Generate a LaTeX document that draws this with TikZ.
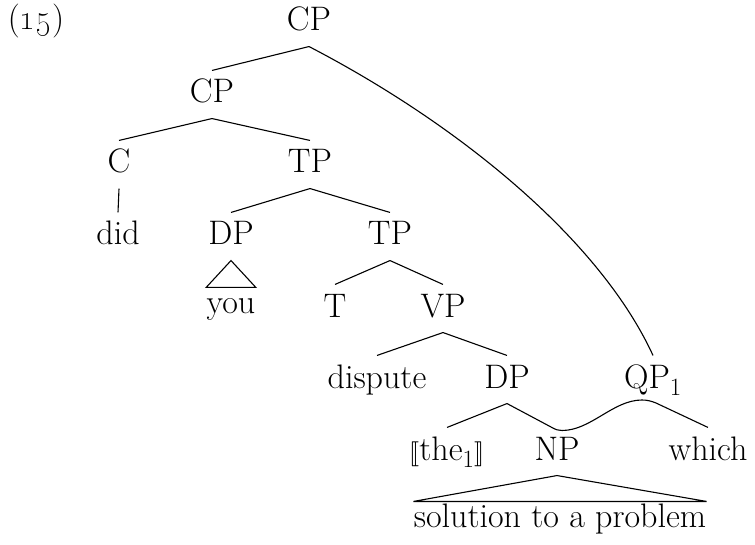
\documentclass[tikz,border=0pt]{standalone}
\usepackage{stmaryrd}
\usetikzlibrary{calc}
\begin{document}
\begin{tikzpicture}[x=1pt,y=-1pt, line width=1.1pt,
  lbl/.style={font=\fontsize{34}{40}\selectfont, anchor=base, inner xsep=0pt, inner ysep=7pt, text height=25pt, text depth=8pt},
  rooflbl/.style={lbl, text height=18pt}]
\useasboundingbox (0,0) rectangle (755,545);
\node[lbl] (ex) at (36,30) {(\oldstylenums{15})};
\node[lbl] (cp) at (309,31) {CP};
\node[lbl] (cpb) at (212,103) {CP};
\node[lbl] (c) at (119,173) {C};
\node[lbl] (tp) at (310,173) {TP};
\node[lbl] (did) at (118,245) {did};
\node[lbl] (dp) at (231,245) {DP};
\node[lbl] (tpb) at (390,245) {TP};
\node[rooflbl] (you) at (231,313) {you};
\node[lbl] (t) at (335,317) {T};
\node[lbl] (vp) at (443,317) {VP};
\node[lbl] (disp) at (377,388) {dispute};
\node[lbl] (dpb) at (507,388) {DP};
\node[lbl] (qp) at (653,388) {QP$_1$};
\node[lbl] (the) at (447,460) {$\llbracket$the$_1$$\rrbracket$};
\node[lbl] (np) at (557,460) {NP};
\node[lbl] (which) at (708,460) {which};
\node[rooflbl] (sol) at (560,527) {solution to a problem};
\coordinate (npt) at (562,430.5);
\coordinate (qpt) at (642,400);
\draw (cp.south) -- (cpb.north);
\draw (cpb.south) -- (c.north);
\draw (cpb.south) -- (tp.north);
\draw (c.south) -- (did.north);
\draw (tp.south) -- (dp.north);
\draw (tp.south) -- (tpb.north);
\draw (dp.south) -- (you.north west) -- (you.north east) -- cycle;
\draw (tpb.south) -- (t.north);
\draw (tpb.south) -- (vp.north);
\draw (vp.south) -- (disp.north);
\draw (vp.south) -- (dpb.north);
\draw (dpb.south) -- (the.north);
\draw (dpb.south) -- ($(npt)+(-11,-3.5)$) .. controls ($(npt)+(-6,-0.5)$) and ($(npt)+(-3,0)$) .. (npt)
  .. controls ($(npt)+(29,0)$) and ($(qpt)+(-29,0)$) .. (qpt)
  .. controls ($(qpt)+(5,0)$) and ($(qpt)+(9,1)$) .. ($(qpt)+(14,3)$) -- (which.north);
\draw (np.south) -- (sol.north west) -- (sol.north east) -- cycle;
\draw (cp.south) .. controls (460,125) and (600,240) .. (qp.north);
\end{tikzpicture}
\end{document}
